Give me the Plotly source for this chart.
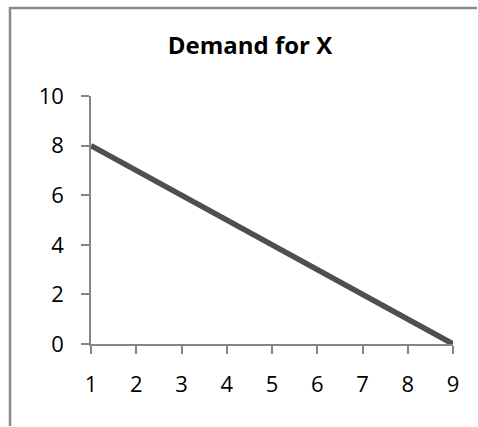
import plotly.graph_objects as go

quantity = [1, 2, 3, 4, 5, 6, 7, 8, 9]
price = [8, 7, 6, 5, 4, 3, 2, 1, 0]
y_ticks = [0, 2, 4, 6, 8, 10]
title_text = "Demand for X"

W, H = 478, 427
L, R, T, B = 91, 25, 96, 83
pw = W - L - R
ph = H - T - B

axis_col = "#868686"
font_fam = "Open Sans, Noto Sans, sans-serif"

fig = go.Figure()
fig.add_trace(go.Scatter(
    x=quantity, y=price, mode="lines",
    line=dict(color="#4f4f4f", width=5.5),
    showlegend=False, hoverinfo="skip",
))

# chart-area border (cropped on right and bottom): an open L path, left + top edges
bx = (10 - L) / pw
by = (H - B - 8) / ph
x_end = (W - 1 - L) / pw
y_end = -(B - 1) / ph
fig.add_shape(type="path", xref="paper", yref="paper",
              path=f"M {bx:.5f},{y_end:.5f} L {bx:.5f},{by:.5f} L {x_end:.5f},{by:.5f}",
              line=dict(color="#8a8a8a", width=2.5),
              fillcolor="rgba(0,0,0,0)", layer="above")

fig.update_layout(
    width=W, height=H,
    margin=dict(l=L, r=R, t=T, b=B, pad=0, autoexpand=False),
    paper_bgcolor="white", plot_bgcolor="white",
    font=dict(family=font_fam, color="#000000", size=22),
    title=dict(text="<b>" + title_text + "</b>", x=250 / W, xref="container",
               xanchor="center", y=1 - 46 / H, yref="container", yanchor="middle",
               font=dict(family=font_fam, size=24, color="#000000")),
    xaxis=dict(range=[1, 9], tickvals=quantity, ticktext=[str(v) for v in quantity],
               showgrid=False, zeroline=False, showline=True, linecolor=axis_col,
               linewidth=1.5, ticks="outside", ticklen=8, tickcolor=axis_col,
               tickwidth=1.5, tickfont=dict(size=22), ticklabelstandoff=12,
               automargin=False, fixedrange=True),
    yaxis=dict(range=[0, 10], tickvals=y_ticks, showgrid=False, zeroline=False,
               showline=True, linecolor=axis_col, linewidth=1.5, ticks="outside",
               ticklen=8, tickcolor=axis_col, tickwidth=1.5,
               tickfont=dict(size=22), ticklabelstandoff=13,
               automargin=False, fixedrange=True),
)

fig.write_html("out.html")
